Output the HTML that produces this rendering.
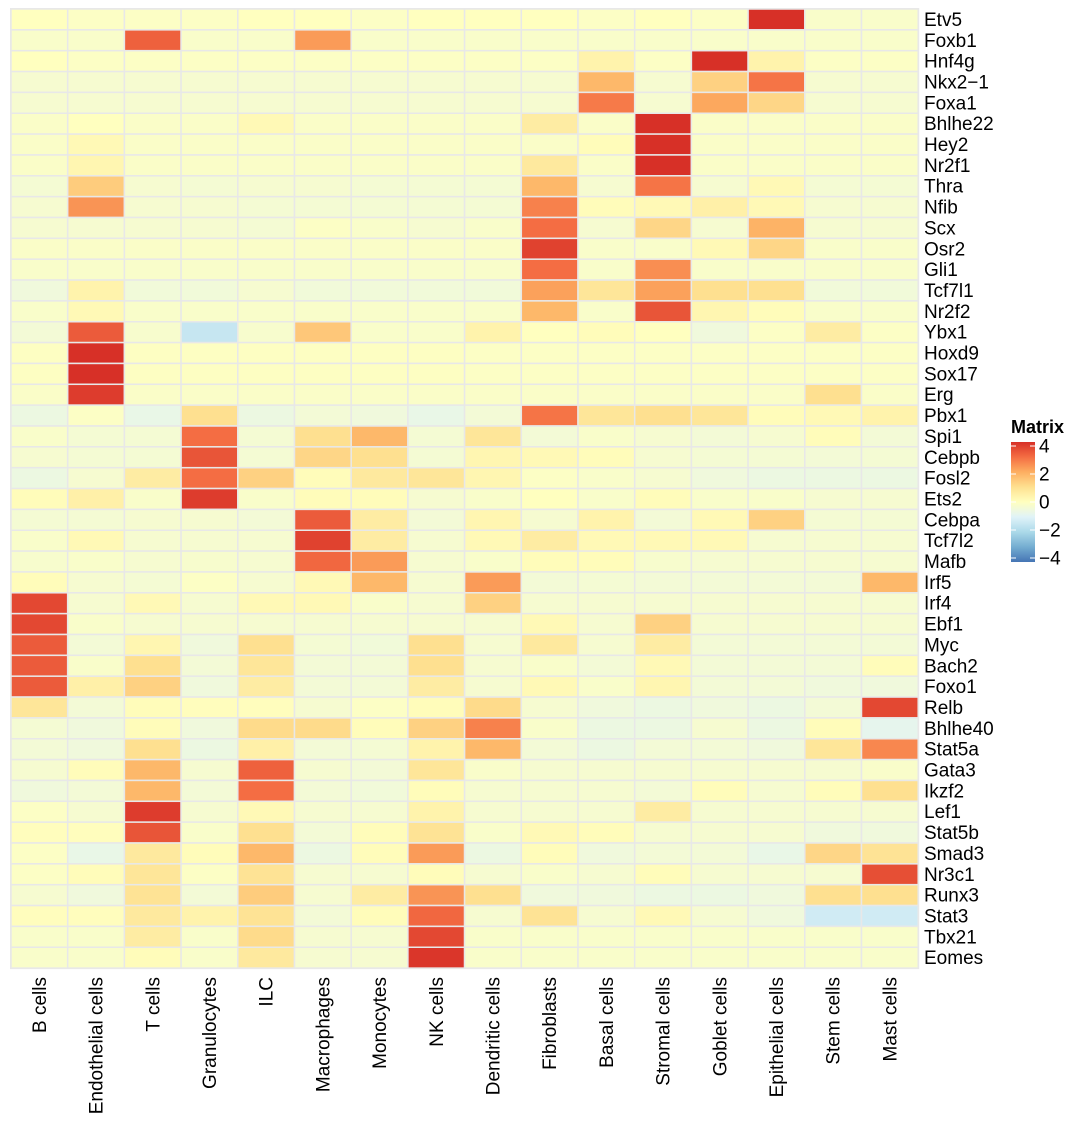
<!DOCTYPE html>
<html><head><meta charset="utf-8"><style>
html,body{margin:0;padding:0;background:#fff;}
svg{display:block;font-family:"Liberation Sans",sans-serif;}
</style></head><body>
<svg id="chart" width="1080" height="1133" viewBox="0 0 1080 1133" xmlns="http://www.w3.org/2000/svg">
<g id="cells"></g>
<g id="rowlabels"></g>
<g id="collabels"></g>
<g id="legend"></g>
</svg>
<script>
const columns=["B cells","Endothelial cells","T cells","Granulocytes","ILC","Macrophages","Monocytes","NK cells","Dendritic cells","Fibroblasts","Basal cells","Stromal cells","Goblet cells","Epithelial cells","Stem cells","Mast cells"];
const rows=["Etv5","Foxb1","Hnf4g","Nkx2\u22121","Foxa1","Bhlhe22","Hey2","Nr2f1","Thra","Nfib","Scx","Osr2","Gli1","Tcf7l1","Nr2f2","Ybx1","Hoxd9","Sox17","Erg","Pbx1","Spi1","Cebpb","Fosl2","Ets2","Cebpa","Tcf7l2","Mafb","Irf5","Irf4","Ebf1","Myc","Bach2","Foxo1","Relb","Bhlhe40","Stat5a","Gata3","Ikzf2","Lef1","Stat5b","Smad3","Nr3c1","Runx3","Stat3","Tbx21","Eomes"];
const values=[
[0,-0.1,-0.1,-0.1,0,0,-0.1,0,0,0,-0.1,0,-0.1,4,-0.2,-0.2],
[-0.2,-0.2,3.2,-0.2,-0.2,2.3,-0.2,-0.2,-0.2,-0.2,-0.2,-0.2,-0.2,-0.2,-0.2,-0.2],
[0,-0.1,-0.1,-0.1,-0.1,-0.1,-0.1,-0.1,-0.1,-0.1,0.4,-0.1,4,0.4,-0.1,-0.1],
[-0.3,-0.3,-0.3,-0.3,-0.3,-0.3,-0.3,-0.3,-0.3,-0.3,1.8,-0.3,1.3,2.9,-0.3,-0.3],
[-0.3,-0.3,-0.3,-0.3,-0.3,-0.3,-0.3,-0.3,-0.3,-0.3,2.8,-0.3,2.1,1.2,-0.3,-0.3],
[-0.15,0,-0.15,-0.15,0.2,-0.15,-0.15,-0.15,-0.15,0.6,-0.15,4,-0.15,-0.15,-0.15,-0.15],
[-0.15,0.2,-0.15,-0.15,-0.15,-0.15,-0.15,-0.15,-0.15,-0.15,0.1,4,-0.15,-0.15,-0.15,-0.15],
[-0.15,0.3,-0.15,-0.15,-0.15,-0.15,-0.15,-0.15,-0.15,0.7,-0.15,4,-0.15,-0.15,-0.15,-0.15],
[-0.35,1.4,-0.3,-0.35,-0.3,-0.3,-0.35,-0.35,-0.35,1.8,-0.3,2.9,-0.3,0.2,-0.35,-0.35],
[-0.3,2.4,-0.3,-0.3,-0.35,-0.35,-0.35,-0.35,-0.35,2.7,0.1,0.2,0.5,0.2,-0.3,-0.3],
[-0.3,-0.3,-0.3,-0.3,-0.35,-0.1,-0.2,-0.3,-0.2,3.0,-0.3,1.2,-0.3,1.9,-0.3,-0.3],
[-0.15,-0.15,-0.15,-0.15,-0.15,-0.15,-0.15,-0.15,-0.15,3.7,-0.2,-0.2,0.2,1.2,-0.2,-0.2],
[-0.2,-0.2,-0.2,-0.2,-0.2,-0.2,-0.2,-0.2,-0.2,3.0,-0.2,2.5,-0.2,-0.2,-0.2,-0.2],
[-0.5,0.4,-0.45,-0.45,-0.3,-0.45,-0.45,-0.45,-0.45,2.2,0.8,2.2,1.0,1.0,-0.45,-0.45],
[-0.2,0.2,-0.2,-0.2,-0.2,-0.2,-0.2,-0.2,-0.2,1.8,-0.2,3.4,0.3,0.1,-0.2,-0.2],
[-0.4,3.3,-0.25,-1.5,-0.25,1.5,-0.2,-0.2,0.4,0,0.1,0,-0.5,-0.1,0.6,-0.1],
[-0.05,4,-0.05,-0.05,-0.05,-0.05,-0.05,-0.05,-0.1,-0.1,-0.1,-0.1,-0.1,-0.1,-0.1,-0.1],
[-0.05,4,-0.05,-0.05,-0.05,-0.05,-0.05,-0.05,-0.1,-0.1,-0.1,-0.1,-0.1,-0.1,-0.1,-0.1],
[-0.15,3.8,-0.15,-0.15,-0.15,-0.15,-0.15,-0.15,-0.15,-0.15,-0.15,-0.15,-0.15,-0.15,1.0,-0.15],
[-0.6,-0.1,-0.7,1.0,-0.6,-0.4,-0.5,-0.7,-0.4,2.9,0.8,1.0,0.8,0.1,0.2,0.4],
[-0.2,-0.35,-0.35,3.0,-0.35,1.0,1.8,-0.35,0.8,-0.4,-0.2,-0.3,-0.4,-0.3,0.1,-0.4],
[-0.3,-0.35,-0.35,3.4,-0.35,1.2,1.0,-0.35,0.3,0.2,0.1,-0.3,-0.35,-0.35,-0.4,-0.35],
[-0.6,-0.3,0.6,3.0,1.3,0.1,0.7,0.8,0.3,-0.1,-0.2,-0.3,-0.5,-0.6,-0.6,-0.6],
[0.1,0.5,-0.2,3.8,-0.2,0.1,0.1,-0.3,-0.2,0,-0.2,0.1,-0.2,-0.2,-0.3,-0.3],
[-0.35,-0.35,-0.3,-0.3,-0.4,3.3,0.6,-0.4,0.3,-0.3,0.4,-0.4,0.2,1.3,-0.35,-0.35],
[-0.2,0.2,-0.3,-0.3,-0.3,3.7,0.6,-0.3,0.2,0.6,0.2,0.2,0.2,-0.3,-0.3,-0.3],
[-0.25,-0.2,-0.3,-0.25,-0.3,3.1,2.3,-0.3,-0.2,0.1,0.1,-0.25,-0.3,-0.3,-0.3,-0.3],
[0.1,-0.3,-0.35,-0.1,-0.3,0.2,1.8,-0.3,2.3,-0.4,-0.35,-0.4,-0.4,-0.4,-0.4,1.8],
[3.6,-0.3,0.2,-0.3,0.2,0.2,-0.2,-0.3,1.3,-0.3,-0.3,-0.3,-0.3,-0.3,-0.3,-0.3],
[3.6,-0.2,-0.3,-0.3,-0.3,-0.3,-0.3,-0.3,-0.3,0.2,-0.3,1.3,-0.3,-0.3,-0.3,-0.3],
[3.3,-0.4,0.3,-0.5,1.0,-0.35,-0.45,1.0,-0.3,0.7,-0.3,0.6,-0.4,-0.4,-0.4,-0.4],
[3.3,-0.2,1.0,-0.4,0.8,-0.4,-0.4,1.0,-0.3,-0.2,-0.4,0.2,-0.4,-0.4,-0.4,0.1],
[3.3,0.5,1.3,-0.5,0.6,-0.4,-0.4,0.6,-0.3,0.2,-0.2,0.3,-0.4,-0.4,-0.5,-0.5],
[0.8,-0.4,0.1,0.05,0.05,-0.3,-0.1,0.1,1.1,-0.3,-0.5,-0.6,-0.5,-0.6,-0.4,3.6],
[-0.35,-0.5,0.1,-0.5,1.1,1.1,0.1,1.3,2.7,-0.2,-0.6,-0.6,-0.3,-0.6,0.1,-0.8],
[-0.4,-0.5,1.0,-0.6,0.5,-0.4,-0.35,0.4,1.8,-0.4,-0.6,-0.4,-0.4,-0.5,0.8,2.6],
[-0.3,0.1,1.8,-0.3,3.2,-0.3,-0.4,0.8,-0.2,-0.3,-0.3,-0.3,-0.3,-0.3,-0.3,-0.2],
[-0.5,-0.4,1.8,-0.4,3.0,-0.4,-0.45,0.1,-0.3,-0.3,-0.3,-0.4,0.1,-0.3,0.1,1.0],
[-0.1,-0.3,3.8,-0.3,0.2,-0.3,-0.3,0.4,-0.3,-0.3,-0.3,0.6,-0.3,-0.3,-0.3,-0.3],
[0.05,0.05,3.4,-0.2,1.0,-0.4,0.1,0.9,-0.2,0.2,0.1,-0.3,-0.3,-0.3,-0.5,-0.5],
[-0.1,-0.7,0.7,0.1,1.8,-0.6,0.1,2.3,-0.6,0.1,-0.5,-0.4,-0.4,-0.7,1.2,0.9],
[-0.1,0.1,0.8,-0.1,0.9,-0.3,-0.3,0.1,-0.3,-0.2,-0.3,0.1,-0.3,-0.3,-0.3,3.5],
[-0.3,-0.5,0.9,-0.4,1.4,-0.3,0.6,2.4,1.0,-0.5,-0.5,-0.6,-0.6,-0.5,1.0,1.0],
[0.05,0.05,0.7,0.4,0.9,-0.4,0.1,3.1,-0.3,0.9,-0.3,0.2,-0.3,-0.5,-1.3,-1.3],
[-0.2,-0.2,0.6,-0.2,1.1,-0.3,-0.3,3.6,-0.2,-0.2,-0.2,-0.2,-0.2,-0.2,-0.2,-0.2],
[-0.2,-0.2,0.1,-0.2,0.7,-0.3,-0.3,3.9,-0.2,-0.2,-0.2,-0.2,-0.2,-0.2,-0.2,-0.2]
];
const legendTicks=[4,2,0,-2,-4];
const legendTickLabels=["4","2","0","\u22122","\u22124"];

const NS="http://www.w3.org/2000/svg";
const X0=11,Y0=9,CW=56.7,RH=20.85,FS=19;
const stops=[[-4,[69,117,180]],[-3,[116,173,209]],[-2,[171,217,233]],[-1,[224,243,248]],[0,[255,255,191]],[1,[254,224,144]],[2,[253,174,97]],[3,[244,109,67]],[4,[215,48,39]]];
function color(v){v=Math.max(-4,Math.min(4,v));for(let i=0;i<stops.length-1;i++){const a=stops[i],b=stops[i+1];if(v>=a[0]&&v<=b[0]){const t=(v-a[0])/(b[0]-a[0]);const c=a[1].map((x,k)=>Math.round(x+(b[1][k]-x)*t));return `rgb(${c[0]},${c[1]},${c[2]})`;}}return "#fff";}
function xPos(j){return X0+j*CW;}
function yPos(i){return Y0+i*RH;}
function mk(tag,attrs,parent){const e=document.createElementNS(NS,tag);for(const k in attrs)e.setAttribute(k,attrs[k]);parent.appendChild(e);return e;}
const gC=document.getElementById('cells');
mk('rect',{x:X0-1,y:Y0-1,width:CW*16+2,height:RH*46+2,fill:'#e6e6e6'},gC);
values.forEach((row,i)=>row.forEach((v,j)=>{
  const r=mk('rect',{x:xPos(j),y:yPos(i),width:CW,height:RH,fill:color(v),stroke:'#e8e8e8','stroke-width':1.5},gC);
  
  
}));
const gR=document.getElementById('rowlabels');
rows.forEach((n,i)=>{
  const t=mk('text',{x:924,y:yPos(i)+RH/2+6.5,'font-size':FS,fill:'#000'},gR);
  t.textContent=n;
  
  
});
const gL=document.getElementById('collabels');
columns.forEach((n,j)=>{
  const cx=xPos(j)+CW/2+6.5;
  const t=mk('text',{x:cx,y:977,'font-size':FS,fill:'#000','text-anchor':'end',transform:`rotate(-90 ${cx} 977)`},gL);
  t.textContent=n;
  
  
});
const gLg=document.getElementById('legend');
const defs=mk('defs',{},gLg);
const grad=mk('linearGradient',{id:'lg',x1:0,y1:0,x2:0,y2:1},defs);
for(let k=0;k<=16;k++){const v=4-k*0.5;mk('stop',{offset:(k/16),'stop-color':color(v)},grad);}
const title=mk('text',{x:1011,y:433,'font-size':18,'font-weight':'bold',fill:'#000'},gLg);
title.textContent='Matrix';


const LY0=442,LY1=562;
function ly(v){return 446+(4-v)/8*(558-446);}
const bar=mk('rect',{x:1011,y:LY0,width:24,height:LY1-LY0,fill:'url(#lg)'},gLg);


legendTicks.forEach((v,k)=>{
  const y=ly(v);
  mk('line',{x1:1011,x2:1016,y1:y,y2:y,stroke:'#fff','stroke-width':1},gLg);
  mk('line',{x1:1030,x2:1035,y1:y,y2:y,stroke:'#fff','stroke-width':1},gLg);
  const t=mk('text',{x:1039,y:y+6.5,'font-size':FS,fill:'#000'},gLg);
  t.textContent=legendTickLabels[k];
  
  
});
</script>
</body></html>
